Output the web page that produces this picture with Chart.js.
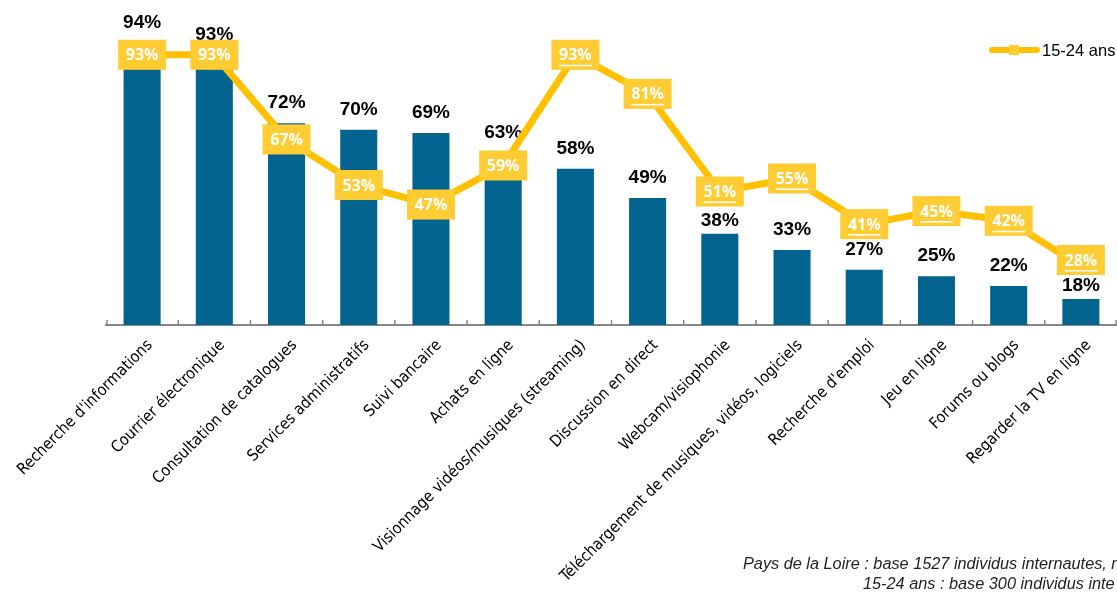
<!DOCTYPE html>
<html>
<head>
<meta charset="utf-8">
<script src="https://cdn.jsdelivr.net/npm/chart.js@4.4.1/dist/chart.umd.min.js"></script>
<style>
  html, body { margin: 0; padding: 0; background: #ffffff; }
  #wrap { width: 1117px; height: 595px; position: relative; }
</style>
</head>
<body>
<div id="wrap"><canvas id="c" width="1117" height="595"></canvas></div>
<script>
const categories = [
  "Recherche d'informations",
  "Courrier électronique",
  "Consultation de catalogues",
  "Services administratifs",
  "Suivi bancaire",
  "Achats en ligne",
  "Visionnage vidéos/musiques (streaming)",
  "Discussion en direct",
  "Webcam/visiophonie",
  "Téléchargement de musiques, vidéos, logiciels",
  "Recherche d'emploi",
  "Jeu en ligne",
  "Forums ou blogs",
  "Regarder la TV en ligne"
];
const ensembleValues = [94, 93, 72, 70, 69, 63, 58, 49, 38, 33, 27, 25, 22, 18];
const jeunesValues   = [93, 93, 67, 53, 47, 59, 93, 81, 51, 55, 41, 45, 42, 28];
const ensembleLabel = "Pays de la Loire";
const jeunesLabel = "15-24 ans";
const underlinedFrom = 6;
const footnoteLines = [
  "Pays de la Loire : base 1527 individus internautes, r",
  "15-24 ans : base 300 individus inte"
];

const BAR_COLOR = '#02648f';
const LINE_COLOR = '#FFC000';
const BOX_COLOR = '#FFCC33';
const BOX_W = 48, BOX_H = 30;

let layoutCache = null;
function computeLayout(chart) {
  const meta = chart.getDatasetMeta(0);
  const lineMeta = chart.getDatasetMeta(1);
  const out = [];
  meta.data.forEach((bar, i) => {
    const pt = lineMeta.data[i];
    let labelY = bar.y - 20;
    let boxY = pt.y;
    const overlap = (labelY + 9 > boxY - BOX_H / 2) && (labelY - 9 < boxY + BOX_H / 2);
    if (overlap) {
      if (bar.y < pt.y) {
        labelY = boxY - BOX_H / 2 - 17;
      } else if (pt.y < bar.y - 10) {
        labelY = bar.y - 13;
        boxY = Math.min(boxY, labelY - 11 - BOX_H / 2);
      }
    }
    out.push({ x: bar.x, labelY, boxX: pt.x, boxY });
  });
  return out;
}

const barLabelsPlugin = {
  id: 'barLabels',
  afterDatasetDraw(chart, args) {
    if (args.index !== 0) return;
    layoutCache = computeLayout(chart);
    const ctx = chart.ctx;
    ctx.save();
    ctx.font = 'bold 19px "Liberation Sans", Arial, sans-serif';
    ctx.fillStyle = '#000';
    ctx.textAlign = 'center';
    ctx.textBaseline = 'middle';
    layoutCache.forEach((l, i) => {
      ctx.fillText(ensembleValues[i] + '%', l.x, l.labelY);
    });
    ctx.restore();
  }
};

const lineBoxesPlugin = {
  id: 'lineBoxes',
  afterDatasetsDraw(chart) {
    const ctx = chart.ctx;
    const lay = layoutCache || computeLayout(chart);
    ctx.save();
    ctx.font = 'bold 16px "Open Sans", "Liberation Sans", sans-serif';
    ctx.textAlign = 'center';
    ctx.textBaseline = 'middle';
    lay.forEach((l, i) => {
      ctx.fillStyle = BOX_COLOR;
      ctx.fillRect(l.boxX - BOX_W / 2, l.boxY - BOX_H / 2, BOX_W, BOX_H);
      ctx.fillStyle = '#ffffff';
      const txt = jeunesValues[i] + '%';
      ctx.fillText(txt, l.boxX, l.boxY + 1);
      if (i >= underlinedFrom) {
        const tw = ctx.measureText(txt).width;
        ctx.fillRect(l.boxX - tw / 2, l.boxY + 10, tw, 1.5);
      }
    });
    ctx.restore();
  }
};

const decorPlugin = {
  id: 'decor',
  afterDraw(chart) {
    const ctx = chart.ctx;
    const x = chart.scales.x;
    const area = chart.chartArea;
    ctx.save();
    ctx.strokeStyle = '#868686';
    ctx.lineWidth = 1.5;
    const n = categories.length;
    for (let i = 0; i <= n; i++) {
      let px;
      if (i === 0) px = area.left + 1;
      else if (i === n) px = area.right - 1;
      else px = (x.getPixelForValue(i - 1) + x.getPixelForValue(i)) / 2;
      ctx.beginPath();
      ctx.moveTo(px, area.bottom);
      ctx.lineTo(px, area.bottom - 5);
      ctx.stroke();
    }
    const ly = 50;
    ctx.strokeStyle = LINE_COLOR;
    ctx.lineWidth = 6;
    ctx.lineCap = 'round';
    ctx.beginPath();
    ctx.moveTo(992, ly);
    ctx.lineTo(1037, ly);
    ctx.stroke();
    ctx.fillStyle = BOX_COLOR;
    ctx.fillRect(1009, ly - 5, 10, 10);
    ctx.fillStyle = '#000';
    ctx.font = '16.5px "Liberation Sans", Arial, sans-serif';
    ctx.textAlign = 'left';
    ctx.textBaseline = 'middle';
    ctx.fillText(jeunesLabel, 1042, ly + 1);
    ctx.font = 'italic 16.3px "Liberation Sans", Arial, sans-serif';
    ctx.fillStyle = '#222';
    ctx.fillText(footnoteLines[0], 743, 564);
    ctx.fillText(footnoteLines[1], 863, 584);
    ctx.restore();
  }
};

new Chart(document.getElementById('c'), {
  data: {
    labels: categories,
    datasets: [
      {
        type: 'bar',
        label: ensembleLabel,
        data: ensembleValues,
        backgroundColor: BAR_COLOR,
        borderWidth: 0,
        categoryPercentage: 1,
        barPercentage: 0.513,
        order: 2
      },
      {
        type: 'line',
        label: jeunesLabel,
        data: jeunesValues,
        borderColor: LINE_COLOR,
        borderWidth: 7,
        pointRadius: 0,
        tension: 0,
        fill: false,
        order: 1
      }
    ]
  },
  options: {
    responsive: false,
    animation: false,
    layout: { padding: { left: 106, top: 32, right: 0, bottom: 0 } },
    plugins: {
      legend: { display: false },
      tooltip: { enabled: false }
    },
    scales: {
      x: {
        offset: true,
        grid: { display: false, drawTicks: false },
        border: { display: true, color: '#868686', width: 2 },
        ticks: {
          autoSkip: false,
          maxRotation: 45,
          minRotation: 45,
          padding: 11,
          labelOffset: 8,
          color: '#000',
          font: { family: '"Liberation Sans Narrow", "DejaVu Sans Condensed", sans-serif', size: 16 }
        },
        afterFit(s) { s.height = 270; s.paddingLeft = 0; s.paddingRight = 0; }
      },
      y: {
        display: false,
        min: 10,
        max: 100
      }
    }
  },
  plugins: [barLabelsPlugin, lineBoxesPlugin, decorPlugin]
});
</script>
</body>
</html>
